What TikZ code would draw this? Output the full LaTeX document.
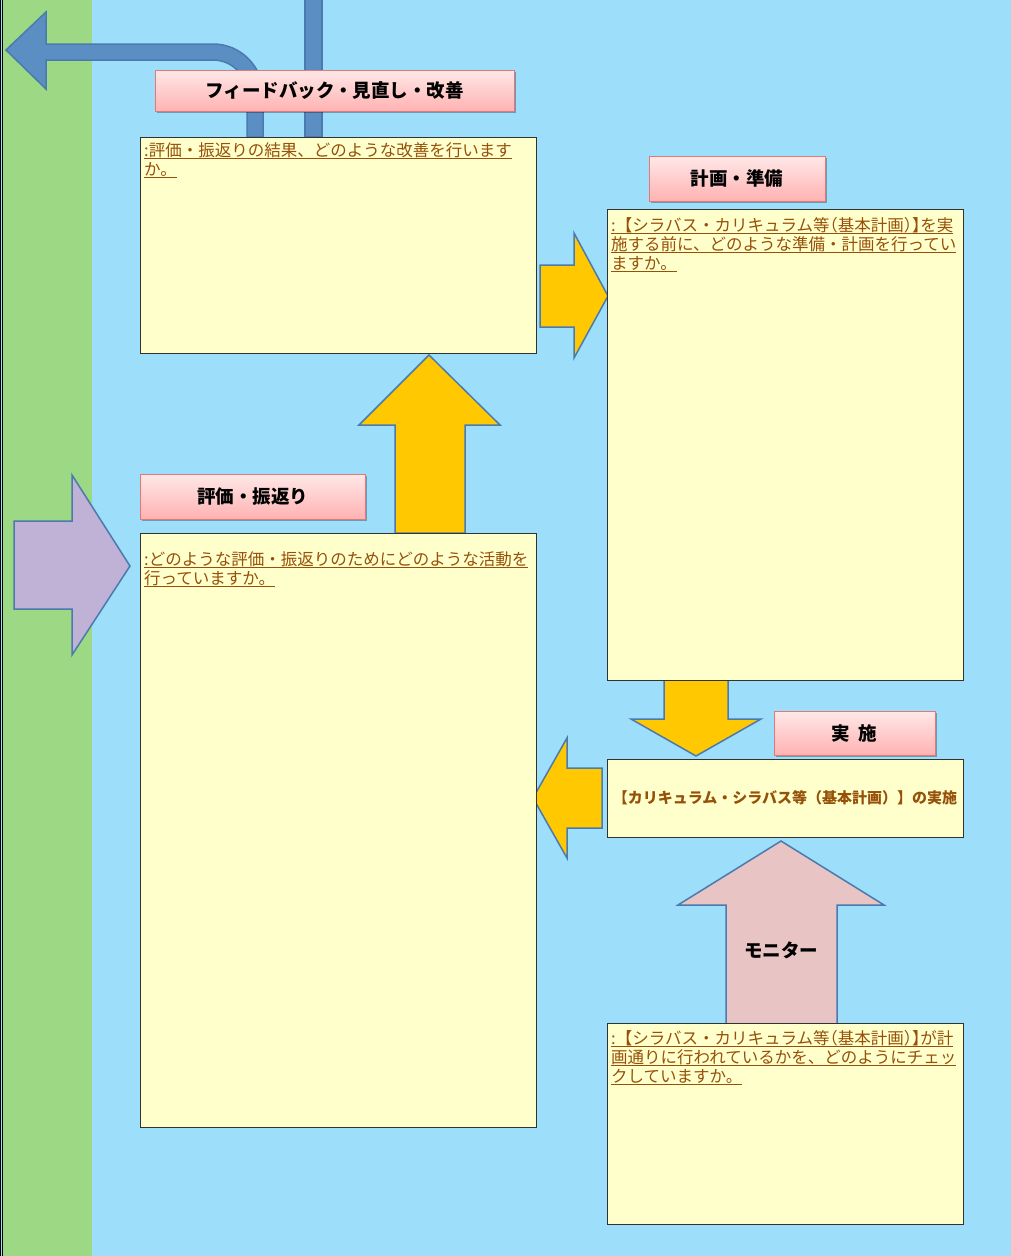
\documentclass[tikz,border=0pt]{standalone}
\usepackage{fontspec}
\setmainfont{Noto Sans CJK JP}
\newfontfamily\jphalt{Noto Sans CJK JP}[RawFeature=+halt]
\usetikzlibrary{shadows}
\definecolor{bgblue}{RGB}{157,222,251}
\definecolor{bggreen}{RGB}{157,216,132}
\definecolor{arrowblue}{RGB}{91,143,196}
\definecolor{edgeblue}{RGB}{74,122,174}
\definecolor{boxfill}{RGB}{255,255,204}
\definecolor{boxedge}{RGB}{50,50,50}
\definecolor{yel}{RGB}{255,200,0}
\definecolor{purp}{RGB}{192,177,214}
\definecolor{pinkarr}{RGB}{233,196,196}
\definecolor{labtop}{RGB}{255,232,232}
\definecolor{labbot}{RGB}{255,178,178}
\definecolor{labedge}{RGB}{228,120,120}
\definecolor{qbrown}{RGB}{150,80,10}
\newcommand\qline[1]{\setbox0\hbox{#1}\leavevmode\rlap{\rule[-3.2pt]{\wd0}{1.1pt}}\box0}
\newcommand\hb[1]{{\jphalt #1}}
\tikzset{
  qbox/.style={draw=boxedge, line width=1pt, fill=boxfill, anchor=north west,
    inner sep=0pt, outer sep=0pt},
  stagelabel/.style={draw=labedge, line width=1pt, top color=labtop, bottom color=labbot,
    anchor=north west, inner sep=0pt, outer sep=0pt,
    font=\fontsize{18.5}{22}\selectfont\bfseries,
    drop shadow={shadow xshift=1.5pt, shadow yshift=-1.5pt, opacity=0.3, fill=black}},
  qtext/.style={anchor=base west, inner sep=0pt, text width=400pt, align=left,
    text=qbrown, font=\fontsize{16.5}{19}\selectfont},
  blockarrow/.style={draw=edgeblue, line width=1.5pt, line join=miter},
}
\begin{document}
\begin{tikzpicture}[x=1pt,y=-1pt]
\useasboundingbox (0,0) rectangle (1011,1256);
% background
\fill[bgblue] (0,0) rectangle (1011,1256);
\fill[bggreen] (3,0) rectangle (92,1256);
\draw[black, line width=1pt] (0.5,0) -- (0.5,1256);
\draw[black, line width=1pt] (2.5,0) -- (2.5,1256);

% blue feedback arrows
\draw[blockarrow, fill=arrowblue] (6,50) -- (46,12) -- (46,44) -- (213,44)
  .. controls (240.6,44) and (263,66.4) .. (263,94) -- (263,137) -- (247,137) -- (247,94)
  .. controls (247,75.2) and (231.8,60) .. (213,60) -- (46,60) -- (46,89) -- cycle;
\draw[blockarrow, fill=arrowblue] (305,-5) rectangle (322,137);

% block arrows (drawn below the boxes)
\draw[blockarrow, fill=yel] (540,265) -- (574,265) -- (574,233) -- (608,296) -- (574,358)
  -- (574,327) -- (540,327) -- cycle;
\draw[blockarrow, fill=yel] (395,533) -- (395,425) -- (359,425) -- (429,355) -- (500,425)
  -- (465,425) -- (465,533) -- cycle;
\draw[blockarrow, fill=yel] (664,678) -- (728,678) -- (728,719) -- (761,719) -- (696,756)
  -- (631,719) -- (664,719) -- cycle;
\draw[blockarrow, fill=yel] (602,768) -- (567,768) -- (567,738) -- (533,798) -- (567,858)
  -- (567,828) -- (602,828) -- cycle;
\draw[blockarrow, fill=purp] (14,521) -- (72,521) -- (72,475) -- (130,566) -- (72,655)
  -- (72,609) -- (14,609) -- cycle;
\draw[blockarrow, fill=pinkarr] (726,1025) -- (726,905) -- (678,905) -- (781,841) -- (884,905)
  -- (837,905) -- (837,1025) -- cycle;
\node[font=\fontsize{18.5}{22}\selectfont\bfseries, inner sep=0pt] (mon) at (781,950) {モニター};

% stage labels
\node[stagelabel, minimum width=359pt, minimum height=41pt] (fb) at (155,70) {フィードバック・見直し・改善};
\node[stagelabel, minimum width=176pt, minimum height=45pt] (plan) at (649,156) {計画・準備};
\node[stagelabel, minimum width=225pt, minimum height=45pt] (eval) at (140,474) {評価・振返り};
\node[stagelabel, minimum width=161pt, minimum height=44pt] (do) at (774,711) {実\hspace{0.45em}施};

% question boxes
\node[qbox, minimum width=396pt, minimum height=216pt] (b1) at (140,137) {};
\node[qtext] (t1) at ([xshift=4pt, yshift=-19pt]b1.north west)
  {\qline{:評価・振返りの結果、どのような改善を行います}\\\qline{か。}};

\node[qbox, minimum width=356pt, minimum height=471pt] (b2) at (607,209) {};
\node[qtext] (t2) at ([xshift=4pt, yshift=-22pt]b2.north west)
  {\qline{:【シラバス・カリキュラム等\hb{（}基本計画\hb{）}\hb{】}を実}\\\qline{施する前に、どのような準備・計画を行ってい}\\\qline{ますか。}};

\node[qbox, minimum width=396pt, minimum height=594pt] (b3) at (140,533) {};
\node[qtext] (t3) at ([xshift=4pt, yshift=-32pt]b3.north west)
  {\qline{:どのような評価・振返りのためにどのような活動を}\\\qline{行っていますか。}};

\node[qbox, minimum width=356pt, minimum height=78pt] (b4) at (607,759) {};
\node[text=qbrown, font=\fontsize{15}{18}\selectfont\bfseries, inner sep=0pt] (t4) at (b4.center)
  {【カリキュラム・シラバス等（基本計画）】の実施};

\node[qbox, minimum width=356pt, minimum height=201pt] (b5) at (607,1023) {};
\node[qtext] (t5) at ([xshift=4pt, yshift=-21pt]b5.north west)
  {\qline{:【シラバス・カリキュラム等\hb{（}基本計画\hb{）}\hb{】}が計}\\\qline{画通りに行われているかを、どのようにチェッ}\\\qline{クしていますか。}};
\end{tikzpicture}
\end{document}
